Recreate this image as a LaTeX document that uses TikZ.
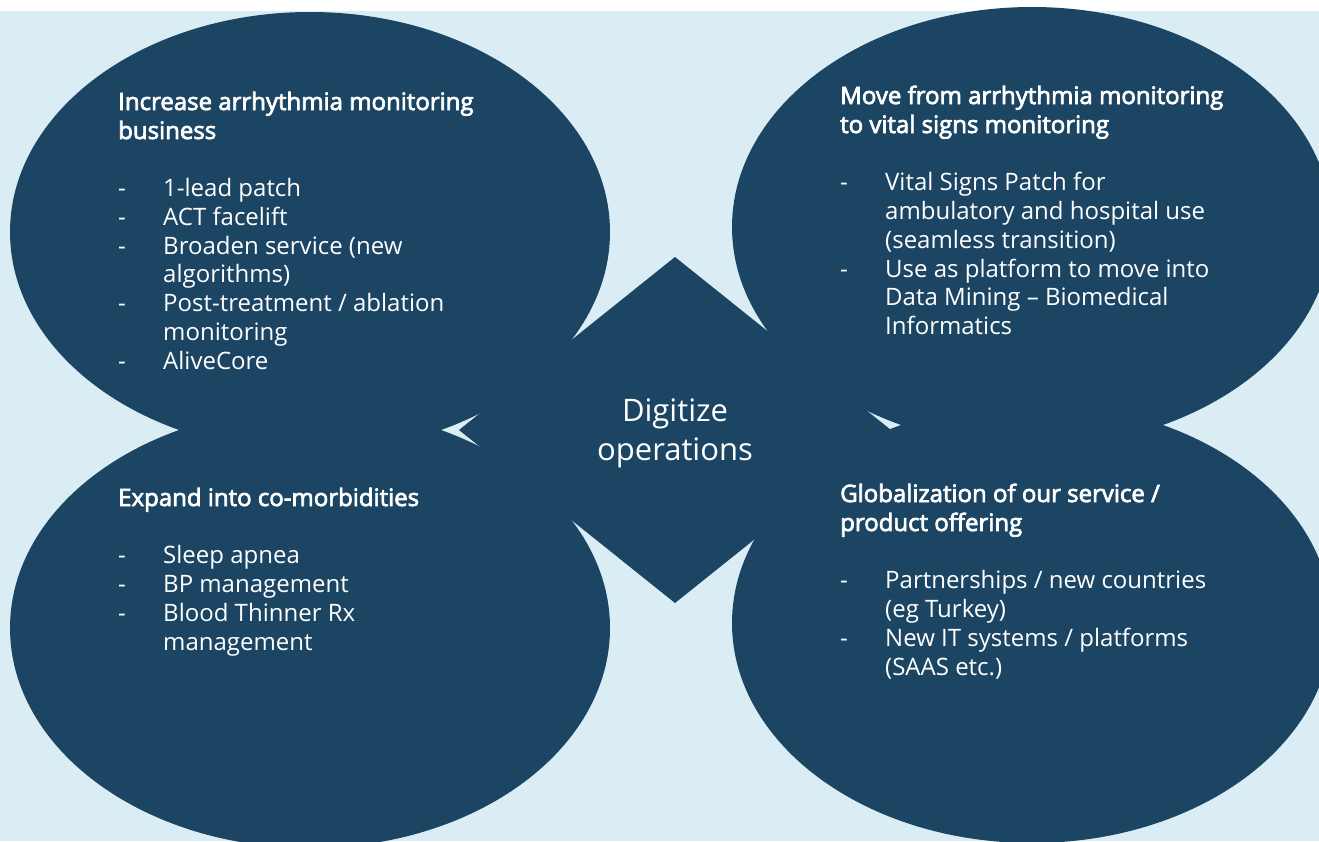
\documentclass[tikz,border=0pt]{standalone}
\usepackage{fontspec}
\setmainfont{Open Sans}
\newfontfamily\headfont{Open Sans}[FakeBold=3]
\definecolor{navy}{HTML}{1B4563}
\definecolor{pale}{HTML}{DAEDF4}
\begin{document}
\begin{tikzpicture}[x=1pt,y=-1pt,
  blob/.style={fill=navy},
  hd/.style={anchor=base west, inner sep=0pt, text=white, font=\headfont\fontsize{24}{29}\selectfont},
  itm/.style={anchor=base west, inner sep=0pt, text=white, font=\fontsize{24}{29}\selectfont},
  mid/.style={anchor=base, inner sep=0pt, text=white, font=\fontsize{31}{38}\selectfont}]
% canvas
\useasboundingbox (0,0) rectangle (1319,841);
\fill[white] (0,0) rectangle (1319,841);
\fill[pale] (0,11) rectangle (1319,841);
% four overlapping ellipses
\fill[blob] (310,232) ellipse [x radius=300pt, y radius=220pt];
\fill[blob] (310,628) ellipse [x radius=300pt, y radius=220pt];
\fill[blob] (1032,227) ellipse [x radius=300pt, y radius=220pt];
\fill[blob] (1032,623) ellipse [x radius=300pt, y radius=220pt];
% central diamond
\fill[blob] (675,257) -- (891,430) -- (675,603) -- (459,430) -- cycle;
\node[mid] (c1) at (675,421.7) {Digitize};
\node[mid] (c2) at (675,460) {operations};
% top left
\node[hd] (a1) at (118,110) {Increase arrhythmia monitoring};
\node[hd] (a2) at (118,139) {business};
\foreach \y [count=\i] in {196,225,254,311,369}
  {\node[itm] (ad\i) at (118,\y) {-};}
\node[itm] (at1) at (163,196) {1-lead patch};
\node[itm] (at2) at (163,225) {ACT facelift};
\node[itm] (at3) at (163,254) {Broaden service (new};
\node[itm] (at4) at (163,282) {algorithms)};
\node[itm] (at5) at (163,311) {Post-treatment / ablation};
\node[itm] (at6) at (163,340) {monitoring};
\node[itm] (at7) at (163,369) {AliveCore};
% top right
\node[hd] (b1) at (840,104) {Move from arrhythmia monitoring};
\node[hd] (b2) at (840,133) {to vital signs monitoring};
\node[itm] (bd1) at (840,190) {-};
\node[itm] (bd2) at (840,277) {-};
\node[itm] (bt1) at (885,190) {Vital Signs Patch for};
\node[itm] (bt2) at (885,219) {ambulatory and hospital use};
\node[itm] (bt3) at (885,248) {(seamless transition)};
\node[itm] (bt4) at (885,277) {Use as platform to move into};
\node[itm] (bt5) at (885,305) {Data Mining – Biomedical};
\node[itm] (bt6) at (885,334) {Informatics};
% bottom left
\node[hd] (d1) at (118,506) {Expand into co-morbidities};
\foreach \y [count=\i] in {563,592,621}
  {\node[itm] (dd\i) at (118,\y) {-};}
\node[itm] (dt1) at (163,563) {Sleep apnea};
\node[itm] (dt2) at (163,592) {BP management};
\node[itm] (dt3) at (163,621) {Blood Thinner Rx};
\node[itm] (dt4) at (163,650) {management};
% bottom right
\node[hd] (e1) at (840,502) {Globalization of our service /};
\node[hd] (e2) at (840,531) {product offering};
\node[itm] (ed1) at (840,588) {-};
\node[itm] (ed2) at (840,646) {-};
\node[itm] (et1) at (885,588) {Partnerships / new countries};
\node[itm] (et2) at (885,617) {(eg Turkey)};
\node[itm] (et3) at (885,646) {New IT systems / platforms};
\node[itm] (et4) at (885,675) {(SAAS etc.)};
\end{tikzpicture}
\end{document}
